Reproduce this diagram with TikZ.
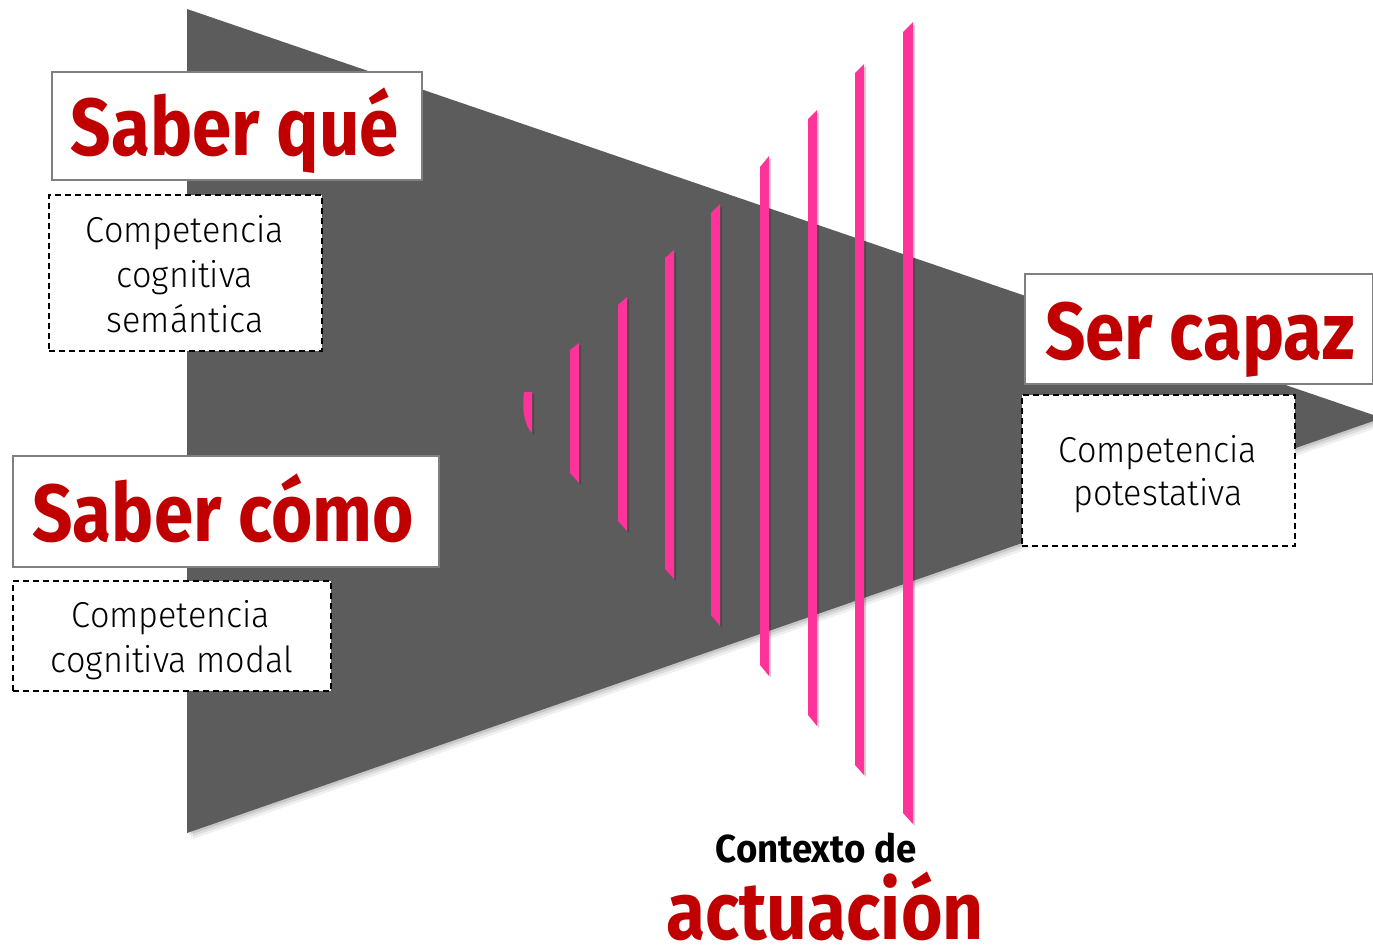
\documentclass[tikz,border=0pt]{standalone}
\usepackage{fontspec}
\setmainfont{Fira Sans}
\newfontfamily\lightfont{Fira Sans Light}
\usetikzlibrary{calc}
\definecolor{tri}{HTML}{5C5C5C}
\definecolor{pinkbar}{HTML}{FF3399}
\definecolor{titlered}{HTML}{C00000}
\definecolor{boxgray}{HTML}{7F7F7F}
\newcommand{\ttl}[1]{\scalebox{0.875}[1]{#1}}
\newcommand{\lt}[1]{\scalebox{0.95}[1]{#1}}
\tikzset{
  titlebox/.style={draw=boxgray, line width=2pt, fill=white, inner sep=0pt},
  dashbox/.style={draw=black, line width=1.5pt, dash pattern=on 6pt off 4pt, fill=white, inner sep=0pt},
  ttext/.style={anchor=base, inner sep=0pt, text=titlered, font=\fontsize{81}{90}\selectfont\bfseries},
  ltext/.style={anchor=base, inner sep=0pt, text=black, font=\fontsize{36}{45}\selectfont\lightfont},
  bar/.style={fill=pinkbar, draw=none},
  barshadow/.style={fill=black, opacity=0.18, draw=none}
}
\begin{document}
\begin{tikzpicture}[x=1pt,y=-1pt]
\useasboundingbox (0,0) rectangle (1373,948);
% triangle shadow
\foreach \d/\o in {6/0.06,4/0.08,2/0.10}{
  \fill[black, opacity=\o] (187+\d,9+\d) -- (1382+\d,418+\d) -- (187+\d,833+\d) -- cycle;
}
\fill[tri] (187,9) -- (1382,418) -- (187,833) -- cycle;
% pink bars: xl, xr, topL, topR, botL, botR
\foreach \xl/\xr/\tl/\tr/\bl/\br in {
  570/579/350/343/473/483,
  618/627/305/297/521/531,
  665/674/258/250/569/579,
  711/720/213/204/615/626,
  760/769/167/156/665/676,
  808/817/119/110/715/726,
  855/864/73/64/765/775,
  903/913/32/22/813/824}{
  \fill[barshadow] (\xl+2,\tl+2) -- (\xr+2,\tr+2) -- (\xr+2,\br+2) -- (\xl+2,\bl+2) -- cycle;
  \fill[bar] (\xl,\tl) -- (\xr,\tr) -- (\xr,\br) -- (\xl,\bl) -- cycle;
}
\fill[barshadow] (526,394) -- (534,394) -- (534,435) .. controls (526,427) and (524,411) .. (526,394) -- cycle;
\fill[bar] (524,392) -- (532,392) -- (532,433) .. controls (524,425) and (522,409) .. (524,392) -- cycle;
% boxes
\node[titlebox, minimum width=370pt, minimum height=108pt] (sq) at (237,126) {};
\node[ttext] (sqt) at (235,155) {\ttl{Saber qué}};
\node[dashbox, minimum width=273pt, minimum height=156pt] (sqd) at (185.5,273) {};
\node[ltext] (sq1) at (185,242) {\lt{Competencia}};
\node[ltext] (sq2) at (185,287) {\lt{cognitiva}};
\node[ltext] (sq3) at (185,332) {\lt{semántica}};

\node[titlebox, minimum width=426pt, minimum height=111pt] (sc) at (226,511.5) {};
\node[ttext] (sct) at (223,541) {\ttl{Saber cómo}};
\node[dashbox, minimum width=318pt, minimum height=110pt] (scd) at (172,636) {};
\node[ltext] (sc1) at (171,627) {\lt{Competencia}};
\node[ltext] (sc2) at (172,672) {\lt{cognitiva modal}};

\node[titlebox, minimum width=348pt, minimum height=110pt] (cp) at (1199,329) {};
\node[ttext] (cpt) at (1200,359) {\ttl{Ser capaz}};
\node[dashbox, minimum width=273pt, minimum height=151pt] (cpd) at (1158.5,470.5) {};
\node[ltext] (cp1) at (1158,462) {\lt{Competencia}};
\node[ltext] (cp2) at (1158,505) {\lt{potestativa}};

% bottom label
\node[anchor=base, inner sep=0pt, font=\fontsize{39}{45}\selectfont\bfseries] (ctx) at (816,862) {\scalebox{0.94}[1]{Contexto de}};
\node[ttext] (act) at (825,939) {\scalebox{0.88}[1]{actuación}};
\end{tikzpicture}
\end{document}
